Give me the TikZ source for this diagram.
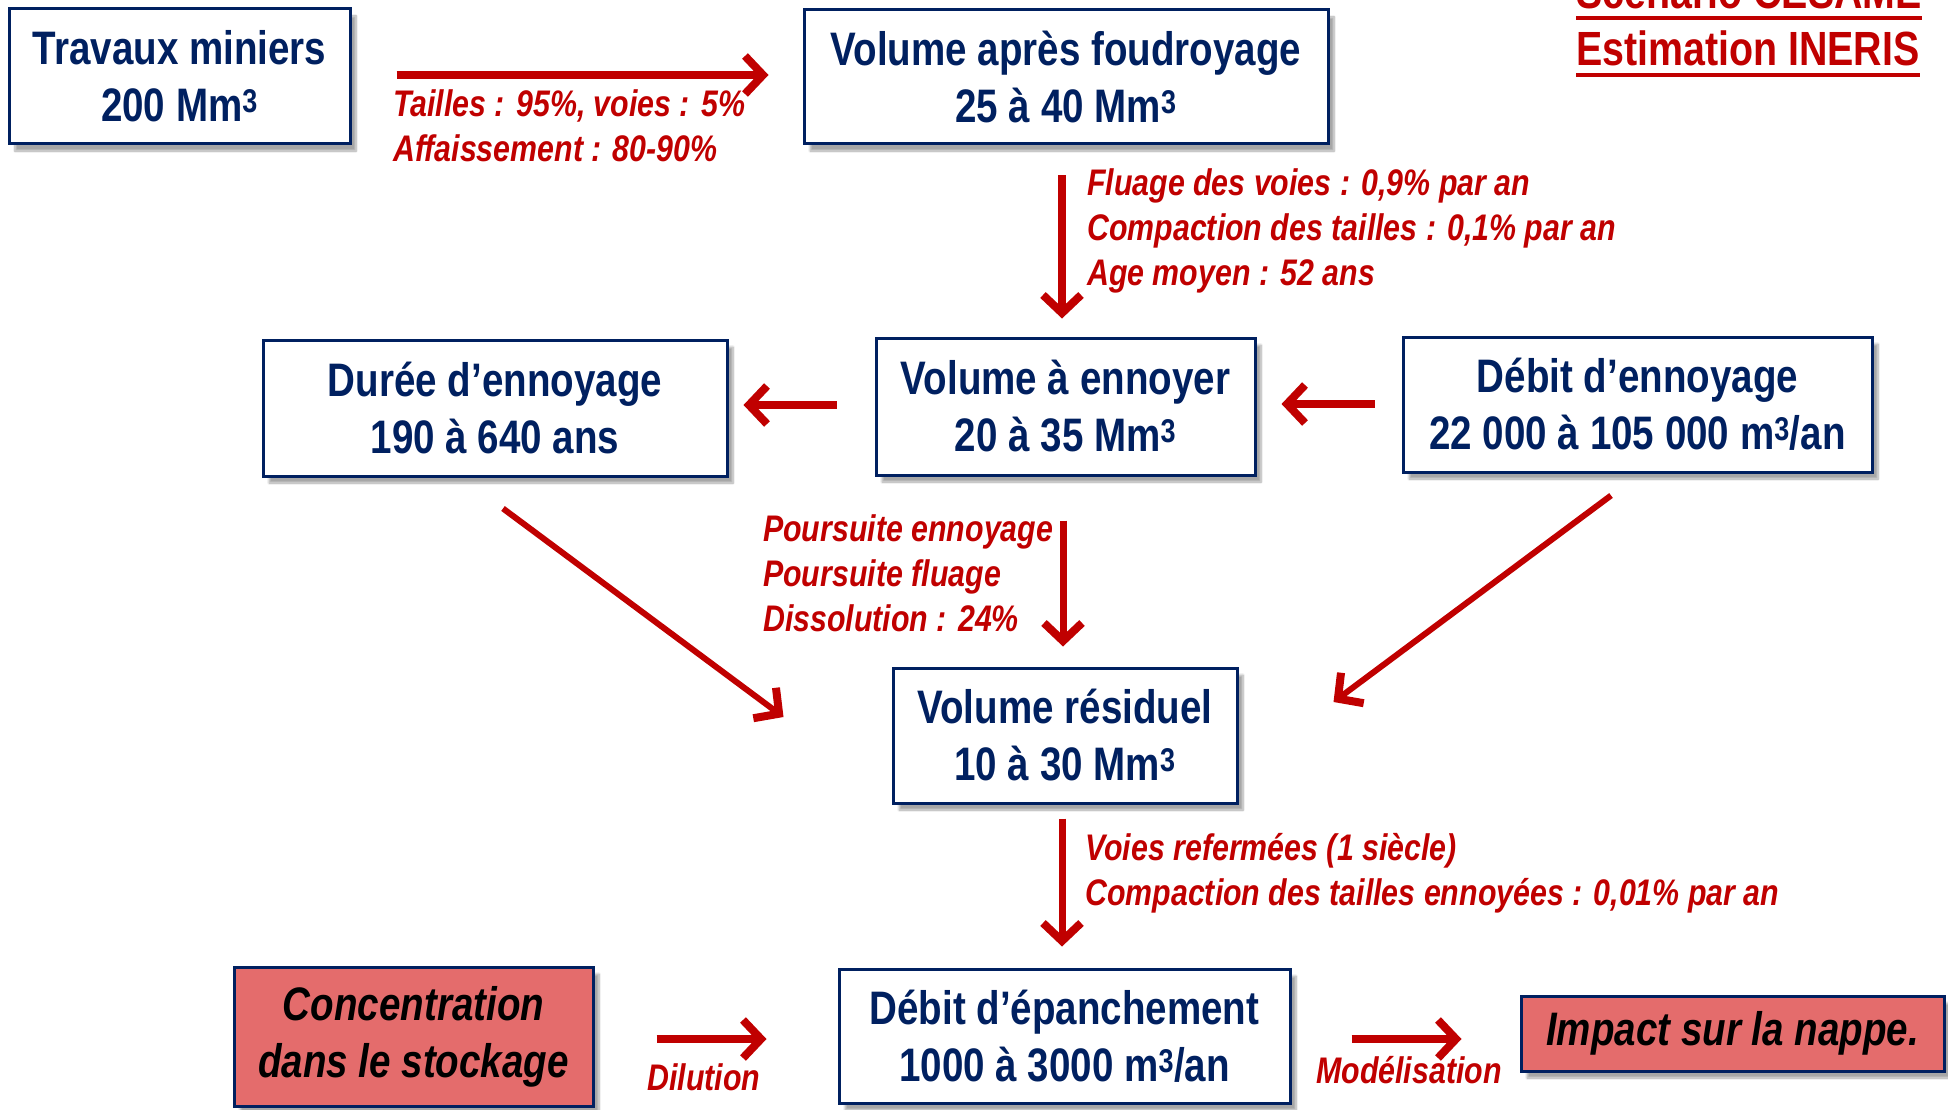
\documentclass[tikz,border=0pt]{standalone}
\usepackage{fontspec}
\setmainfont{Liberation Sans}[FakeStretch=0.82]
\usetikzlibrary{arrows.meta,shadows.blur}
\definecolor{navy}{RGB}{0,32,96}
\definecolor{dred}{RGB}{192,0,0}
\definecolor{boxred}{RGB}{228,108,108}
\begin{document}
\begin{tikzpicture}[x=1pt,y=-1pt,
 box/.style={draw=navy, line width=3pt, fill=white, text=navy,
   font=\fontsize{47}{57}\selectfont\bfseries, align=center, inner sep=0pt,
   blur shadow={shadow xshift=6pt, shadow yshift=-7pt, shadow blur steps=8, shadow opacity=35}},
 rbox/.style={box, fill=boxred, text=black, font=\fontsize{47}{57}\selectfont\bfseries\itshape},
 lab/.style={text=dred, font=\fontsize{37}{45}\selectfont\bfseries\itshape, align=left, inner sep=0pt},
 ttl/.style={text=dred, font=\fontsize{48}{57}\selectfont\bfseries, inner sep=0pt, anchor=base west},
 arr/.style={draw=dred, line width=8pt, -{Straight Barb[length=18pt,width=38pt,line width=8pt]}},
]
\useasboundingbox (0,0) rectangle (1948,1110);
% boxes
\node[box, minimum width=341pt, minimum height=135pt] (trav) at (179.5,76.5) {Travaux miniers\\200 Mm\textsuperscript{3}};
\node[box, minimum width=524pt, minimum height=134pt] (vaf) at (1066,77) {Volume après foudroyage\\25 à 40 Mm\textsuperscript{3}};
\node[box, minimum width=464pt, minimum height=136pt] (dur) at (495,408) {Durée d’ennoyage\\190 à 640 ans};
\node[box, minimum width=379pt, minimum height=137pt] (vae) at (1065.5,406.5) {Volume à ennoyer\\20 à 35 Mm\textsuperscript{3}};
\node[box, minimum width=469pt, minimum height=135pt] (deb) at (1637.5,404.5) {Débit d’ennoyage\\22 000 à 105 000 m\textsuperscript{3}/an};
\node[box, minimum width=344pt, minimum height=135pt] (res) at (1065,735.5) {Volume résiduel\\10 à 30 Mm\textsuperscript{3}};
\node[rbox, minimum width=359pt, minimum height=139pt] (conc) at (413.5,1036.5) {Concentration\\dans le stockage};
\node[box, minimum width=451pt, minimum height=134pt] (epa) at (1064.5,1036) {Débit d’épanchement\\1000 à 3000 m\textsuperscript{3}/an};
\node[rbox, minimum width=423pt, minimum height=75pt] (imp) at (1732.5,1033.5) {Impact sur la nappe.};
% title
\node[ttl] (t1) at (1576,9) {Scénario CESAME};
\node[ttl] (t2) at (1576,66) {Estimation INERIS};
\draw[dred, line width=4pt] ([shift={(0,9)}]t1.base west) -- ([shift={(0,9)}]t1.base east);
\draw[dred, line width=4pt] ([shift={(0,9)}]t2.base west) -- ([shift={(0,9)}]t2.base east);
% arrows
\draw[arr, shorten <=45pt, shorten >=34pt] ([shift={(0,-1.5)}]trav.east) -- ([shift={(0,-2)}]vaf.west);
\draw[arr, shorten <=30pt, shorten >=18pt] ([shift={(-4,0)}]vaf.south) -- ([shift={(-3.5,0)}]vae.north);
\draw[arr, shorten <=38pt, shorten >=15pt] ([shift={(0,-1.5)}]vae.west) -- ([shift={(0,-3)}]dur.east);
\draw[arr, shorten <=27pt, shorten >=25pt] ([shift={(0,-0.5)}]deb.west) -- ([shift={(0,-2.5)}]vae.east);
\draw[arr, line width=6pt] ([shift={(8,31)}]dur.south) -- ([shift={(-108,-18.5)}]res.west);
\draw[arr, line width=6pt] ([shift={(-26.5,22)}]deb.south) -- ([shift={(95,-33.5)}]res.east);
\draw[arr, line width=7pt, shorten <=44pt, shorten >=20pt] ([shift={(-2.5,0)}]vae.south) -- ([shift={(-2,0)}]res.north);
\draw[arr, line width=7pt, shorten <=14pt, shorten >=21pt] ([shift={(-3,0)}]res.south) -- ([shift={(-2.5,0)}]epa.north);
\draw[arr, shorten <=62pt, shorten >=71pt] ([shift={(0,2.5)}]conc.east) -- ([shift={(0,3)}]epa.west);
\draw[arr, shorten <=60pt, shorten >=58pt] ([shift={(0,3)}]epa.east) -- ([shift={(0,5.5)}]imp.west);
% labels
\node[lab, anchor=west] (l1) at (393,125.5) {Tailles : 95\%, voies : 5\%\\Affaissement : 80-90\%};
\node[lab, anchor=west] (l2) at (1087,231) {Fluage des voies : 0,9\% par an\\Compaction des tailles : 0,1\% par an\\Age moyen : 52 ans};
\node[lab, anchor=west] (l3) at (763,573) {Poursuite ennoyage\\Poursuite fluage\\Dissolution : 24\%};
\node[lab, anchor=west] (l4) at (1085,873.5) {Voies refermées (1 siècle)\\Compaction des tailles ennoyées : 0,01\% par an};
\node[lab] (l5) at (704,1077) {Dilution};
\node[lab] (l6) at (1409,1070) {Modélisation};
\end{tikzpicture}
\end{document}
